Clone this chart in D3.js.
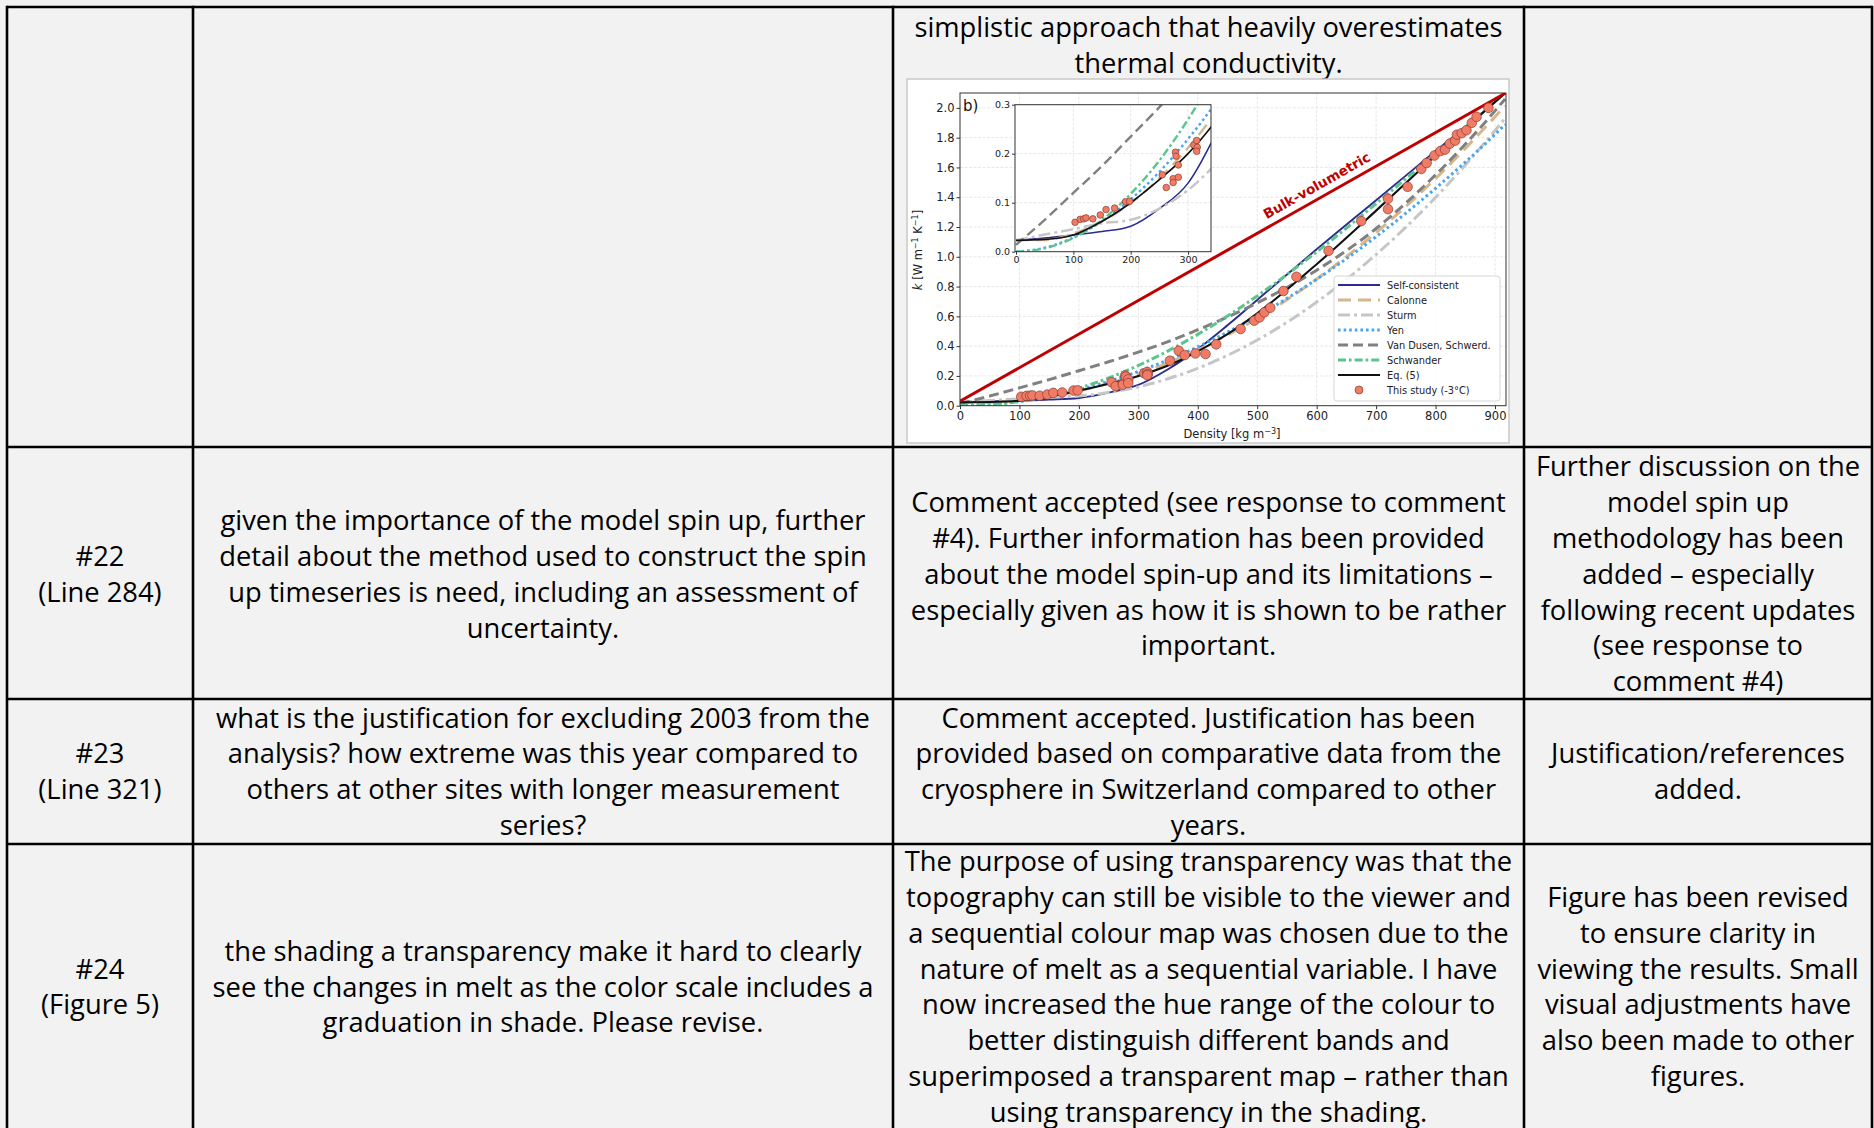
<!DOCTYPE html>
<html>
<head>
<meta charset="utf-8">
<script src="https://cdn.jsdelivr.net/npm/d3@7"></script>
<style>
html, body { margin: 0; padding: 0; background: #f2f2f2; }
svg { display: block; }
</style>
</head>
<body>
<svg id="page" width="1874" height="1128"></svg>
<script>
// ---------------- data ----------------
// density grid shared by the model curves [kg m-3]
var rhoGrid = [0, 50, 100, 150, 200, 250, 300, 350, 400, 450, 500, 600, 700, 800, 900, 917];

// thermal conductivity k [W m-1 K-1] for each model, at rhoGrid
var kSelfConsistent = [0.024, 0.028, 0.034, 0.041, 0.052, 0.088, 0.14, 0.245, 0.38, 0.54, 0.71, 1.05, 1.38, 1.71, 2.04, 2.10];
var kCalonne        = [0.024, 0.024, 0.037, 0.062, 0.099, 0.150, 0.212, 0.287, 0.375, 0.475, 0.587, 0.850, 1.163, 1.526, 1.940, 2.014];
var kSturm          = [0.023, 0.035, 0.046, 0.058, 0.065, 0.088, 0.126, 0.181, 0.251, 0.338, 0.441, 0.696, 1.015, 1.399, 1.848, 1.931];
var kYen            = [0.0, 0.008, 0.029, 0.062, 0.107, 0.163, 0.230, 0.307, 0.395, 0.494, 0.602, 0.849, 1.135, 1.460, 1.822, 1.889];
var kVanDusen       = [0.014, 0.065, 0.12, 0.175, 0.235, 0.295, 0.36, 0.43, 0.51, 0.595, 0.69, 0.91, 1.19, 1.55, 1.98, 2.06];
var kSchwander      = [0.0, 0.007, 0.028, 0.065, 0.118, 0.186, 0.270, 0.368, 0.479, 0.602, 0.737, 1.033, 1.357, 1.696, 2.042, 2.10];
var kEq5            = [0.023, 0.025, 0.034, 0.062, 0.10, 0.147, 0.20, 0.27, 0.365, 0.48, 0.62, 0.95, 1.31, 1.68, 2.04, 2.10];

// bulk-volumetric line (end points)
var rhoBulk = [0, 918];
var kBulk = [0.03, 2.1];

// measurements "This study (-3°C)"
var rhoObs = [103, 112, 118, 122, 134, 147, 157, 172, 191, 198, 255, 262, 274, 274, 278, 279, 283, 283, 310, 315, 316, 315,
              353, 368, 378, 396, 413, 431, 472, 495, 504, 512, 522, 544, 566, 620, 675, 720, 720, 753, 776, 785, 798,
              808, 816, 824, 833, 836, 844, 852, 861, 869, 889];
var kObs   = [0.060, 0.066, 0.067, 0.069, 0.067, 0.075, 0.086, 0.089, 0.102, 0.103, 0.157, 0.131, 0.149, 0.141, 0.203, 0.195, 0.177, 0.152, 0.218, 0.227, 0.213, 0.205,
              0.302, 0.369, 0.34, 0.351, 0.347, 0.412, 0.515, 0.571, 0.593, 0.627, 0.658, 0.77, 0.866, 1.04, 1.24, 1.39, 1.32, 1.47, 1.59, 1.63, 1.68,
              1.71, 1.72, 1.76, 1.78, 1.82, 1.83, 1.85, 1.90, 1.94, 2.00];

var seriesNames = ["Self-consistent", "Calonne", "Sturm", "Yen", "Van Dusen, Schwerd.", "Schwander", "Eq. (5)"];

var xTicks = [0, 100, 200, 300, 400, 500, 600, 700, 800, 900];
var yTicks = [0, 0.2, 0.4, 0.6, 0.8, 1.0, 1.2, 1.4, 1.6, 1.8, 2.0];
var insetXTicks = [0, 100, 200, 300];
var insetYTicks = [0, 0.1, 0.2, 0.3];

// ---------------- table text ----------------
var row1Comment = ["simplistic approach that heavily overestimates", "thermal conductivity."];

var row22 = [
  ["#22", "(Line 284)"],
  ["given the importance of the model spin up, further", "detail about the method used to construct the spin",
   "up timeseries is need, including an assessment of", "uncertainty."],
  ["Comment accepted (see response to comment", "#4). Further information has been provided",
   "about the model spin-up and its limitations \u2013", "especially given as how it is shown to be rather", "important."],
  ["Further discussion on the", "model spin up", "methodology has been", "added \u2013 especially",
   "following recent updates", "(see response to", "comment #4)"]
];
var row23 = [
  ["#23", "(Line 321)"],
  ["what is the justification for excluding 2003 from the", "analysis? how extreme was this year compared to",
   "others at other sites with longer measurement", "series?"],
  ["Comment accepted. Justification has been", "provided based on comparative data from the",
   "cryosphere in Switzerland compared to other", "years."],
  ["Justification/references", "added."]
];
var row24 = [
  ["#24", "(Figure 5)"],
  ["the shading a transparency make it hard to clearly", "see the changes in melt as the color scale includes a",
   "graduation in shade. Please revise."],
  ["The purpose of using transparency was that the", "topography can still be visible to the viewer and",
   "a sequential colour map was chosen due to the", "nature of melt as a sequential variable. I have",
   "now increased the hue range of the colour to", "better distinguish different bands and",
   "superimposed a transparent map \u2013 rather than", "using transparency in the shading."],
  ["Figure has been revised", "to ensure clarity in", "viewing the results. Small", "visual adjustments have",
   "also been made to other", "figures."]
];

// ---------------- layout ----------------
var svg = d3.select("#page");
var rowLines = [7, 447, 699, 844];
var colLines = [7, 193, 893, 1524, 1872];
var rowCenters = [573.3, 770.8, 986];
var linePitch = 35.8;
var tableFont = "'Open Sans', sans-serif";
var chartFont = "'DejaVu Sans', sans-serif";

svg.append("rect").attr("width", 1874).attr("height", 1128).attr("fill", "#f2f2f2");

// fit table font to the reference line width
var probe = svg.append("text").attr("font-family", tableFont).attr("font-size", 24)
    .text("see the changes in melt as the color scale includes a");
var probeW = probe.node().getComputedTextLength();
probe.remove();
var tableSize = 24 * 661 / probeW;

var textLayer = svg.append("g")
    .attr("font-family", tableFont)
    .attr("font-size", tableSize)
    .attr("fill", "#000")
    .attr("text-anchor", "middle");

function colCenter(c) { return (colLines[c] + colLines[c + 1]) / 2; }

function drawCell(lines, c, yMid) {
    var y0 = yMid - (lines.length - 1) * linePitch / 2;
    textLayer.append("g").selectAll("text")
        .data(lines)
        .join("text")
        .attr("x", colCenter(c))
        .attr("y", function(d, i) { return y0 + i * linePitch; })
        .attr("dominant-baseline", "central")
        .text(function(d) { return d; });
}

drawCell(row1Comment, 2, (26.3 + 62.1) / 2);
[row22, row23, row24].forEach(function(row, r) {
    row.forEach(function(lines, c) { drawCell(lines, c, rowCenters[r]); });
});

// borders
var borders = svg.append("g").attr("stroke", "#000").attr("stroke-width", 2.6);
borders.selectAll("line.h").data(rowLines).join("line").attr("class", "h")
    .attr("x1", colLines[0]).attr("x2", colLines[colLines.length - 1])
    .attr("y1", function(d) { return d; }).attr("y2", function(d) { return d; });
borders.selectAll("line.v").data(colLines).join("line").attr("class", "v")
    .attr("x1", function(d) { return d; }).attr("x2", function(d) { return d; })
    .attr("y1", rowLines[0] - 1.3).attr("y2", 1128);

// ---------------- chart ----------------
var chart = svg.append("g").attr("font-family", chartFont);
chart.append("rect").attr("x", 907).attr("y", 79).attr("width", 602).attr("height", 364)
    .attr("fill", "#fff").attr("stroke", "#c9c9c9").attr("stroke-width", 1.5);

var x = d3.scaleLinear().domain([0, 918.5]).range([960, 1506]);
var y = d3.scaleLinear().domain([0, 2.1]).range([405.7, 93]);

// grid
var grid = chart.append("g").attr("stroke", "#e4e4e4").attr("stroke-width", 0.9).attr("stroke-dasharray", "3,1.5");
grid.selectAll("line.gx").data(xTicks.slice(1)).join("line").attr("class", "gx")
    .attr("x1", function(d) { return x(d); }).attr("x2", function(d) { return x(d); })
    .attr("y1", y.range()[0]).attr("y2", y.range()[1]);
grid.selectAll("line.gy").data(yTicks.slice(1)).join("line").attr("class", "gy")
    .attr("y1", function(d) { return y(d); }).attr("y2", function(d) { return y(d); })
    .attr("x1", x.range()[0]).attr("x2", x.range()[1]);

var series = [
    { k: kSelfConsistent, color: "#2a2c8e", w: 1.9, dash: null },
    { k: kCalonne,        color: "#d6b68c", w: 3,   dash: "13,7" },
    { k: kSturm,          color: "#c6c6c6", w: 3,   dash: "12,4,3,4" },
    { k: kYen,            color: "#47a5f2", w: 3,   dash: "2.6,3" },
    { k: kVanDusen,       color: "#808080", w: 3,   dash: "10,5" },
    { k: kSchwander,      color: "#5cc48d", w: 3,   dash: "8,3,2.6,3" },
    { k: kEq5,            color: "#111111", w: 2.1, dash: null }
];
series.forEach(function(s, i) {
    s.name = seriesNames[i];
    s.pts = rhoGrid.map(function(r, j) { return [r, s.k[j]]; });
});
var obs = rhoObs.map(function(r, i) { return [r, kObs[i]]; });

function drawPanel(g, xs, ys, r, lw, withBulk) {
    var line = d3.line().x(function(d) { return xs(d[0]); }).y(function(d) { return ys(d[1]); })
        .curve(d3.curveMonotoneX);
    g.selectAll("path.model").data(series).join("path").attr("class", "model")
        .attr("d", function(d) { return line(d.pts); })
        .attr("fill", "none")
        .attr("stroke", function(d) { return d.color; })
        .attr("stroke-width", function(d) { return d.w * lw; })
        .attr("stroke-dasharray", function(d) { return d.dash; });
    if (withBulk) {
        g.append("path")
            .attr("d", d3.line().x(function(d) { return xs(d[0]); }).y(function(d) { return ys(d[1]); })(
                rhoBulk.map(function(v, i) { return [v, kBulk[i]]; })))
            .attr("stroke", "#bf0000").attr("stroke-width", 3 * lw).attr("fill", "none");
    }
    g.selectAll("circle").data(obs).join("circle")
        .attr("cx", function(d) { return xs(d[0]); })
        .attr("cy", function(d) { return ys(d[1]); })
        .attr("r", r)
        .attr("fill", "#f07c66").attr("stroke", "#8a3b30").attr("stroke-width", 0.7);
}

chart.append("clipPath").attr("id", "mainClip").append("rect")
    .attr("x", 960).attr("y", 93).attr("width", 546).attr("height", 312.7);
drawPanel(chart.append("g").attr("clip-path", "url(#mainClip)"), x, y, 4.8, 1, true);

// main frame and axes
chart.append("rect").attr("x", 960).attr("y", 93).attr("width", 546).attr("height", 312.7)
    .attr("fill", "none").attr("stroke", "#333").attr("stroke-width", 1);

function styleAxis(g, size) {
    g.select(".domain").remove();
    g.selectAll(".tick line").attr("stroke", "#333");
    g.selectAll(".tick text").attr("fill", "#222").attr("font-size", size).attr("font-family", chartFont);
}

chart.append("g").attr("transform", "translate(0,405.7)")
    .call(d3.axisBottom(x).tickValues(xTicks).tickSize(3.5).tickPadding(2.5))
    .call(styleAxis, 11.5);
chart.append("g").attr("transform", "translate(960,0)")
    .call(d3.axisLeft(y).tickValues(yTicks).tickFormat(d3.format(".1f")).tickSize(3.5).tickPadding(2))
    .call(styleAxis, 11.5);

var xl = chart.append("text").attr("x", 1232).attr("y", 438).attr("text-anchor", "middle")
    .attr("font-size", 11.5).attr("fill", "#222");
xl.append("tspan").text("Density [kg m");
xl.append("tspan").attr("dy", -4).attr("font-size", 8).text("\u22123");
xl.append("tspan").attr("dy", 4).text("]");

var yl = chart.append("text").attr("transform", "translate(922,250) rotate(-90)").attr("text-anchor", "middle")
    .attr("font-size", 11.5).attr("fill", "#222");
yl.append("tspan").attr("font-style", "italic").text("k");
yl.append("tspan").text(" [W m");
yl.append("tspan").attr("dy", -4).attr("font-size", 8).text("\u22121");
yl.append("tspan").attr("dy", 4).text(" K");
yl.append("tspan").attr("dy", -4).attr("font-size", 8).text("\u22121");
yl.append("tspan").attr("dy", 4).text("]");

chart.append("text").attr("x", 963).attr("y", 111).attr("font-size", 15).attr("fill", "#111").text("b)");

// bulk-volumetric label along the line
var ang = Math.atan2(y(kBulk[1]) - y(kBulk[0]), x(rhoBulk[1]) - x(rhoBulk[0])) * 180 / Math.PI;
chart.append("text")
    .attr("transform", "translate(" + x(600) + "," + y(1.48) + ") rotate(" + ang + ")")
    .attr("text-anchor", "middle").attr("dominant-baseline", "central")
    .attr("font-size", 13.5).attr("font-weight", "bold").attr("fill", "#bf0000")
    .text("Bulk-volumetric");

// inset
var xi = d3.scaleLinear().domain([0, 340]).range([1016, 1211]);
var yi = d3.scaleLinear().domain([0, 0.3]).range([251.7, 104.7]);
var inset = chart.append("g");
inset.append("rect").attr("x", 1015).attr("y", 104.7).attr("width", 196).attr("height", 147)
    .attr("fill", "#fff");
var igrid = inset.append("g").attr("stroke", "#e4e4e4").attr("stroke-width", 0.9).attr("stroke-dasharray", "3,1.5");
igrid.selectAll("line.gx").data(insetXTicks.slice(1)).join("line").attr("class", "gx")
    .attr("x1", function(d) { return xi(d); }).attr("x2", function(d) { return xi(d); })
    .attr("y1", yi.range()[0]).attr("y2", yi.range()[1]);
igrid.selectAll("line.gy").data(insetYTicks.slice(1)).join("line").attr("class", "gy")
    .attr("y1", function(d) { return yi(d); }).attr("y2", function(d) { return yi(d); })
    .attr("x1", 1015).attr("x2", 1211);
inset.append("clipPath").attr("id", "insetClip").append("rect")
    .attr("x", 1015).attr("y", 104.7).attr("width", 196).attr("height", 147);
drawPanel(inset.append("g").attr("clip-path", "url(#insetClip)"), xi, yi, 3.3, 0.8, false);
inset.append("rect").attr("x", 1015).attr("y", 104.7).attr("width", 196).attr("height", 147)
    .attr("fill", "none").attr("stroke", "#333").attr("stroke-width", 1);
inset.append("g").attr("transform", "translate(0,251.7)")
    .call(d3.axisBottom(xi).tickValues(insetXTicks).tickSize(3).tickPadding(2))
    .call(styleAxis, 9.5);
inset.append("g").attr("transform", "translate(1015,0)")
    .call(d3.axisLeft(yi).tickValues(insetYTicks).tickFormat(d3.format(".1f")).tickSize(3).tickPadding(2))
    .call(styleAxis, 9.5);

// legend
var legend = chart.append("g");
legend.append("rect").attr("x", 1334).attr("y", 276).attr("width", 166).attr("height", 125).attr("rx", 3)
    .attr("fill", "#fff").attr("fill-opacity", 0.85).attr("stroke", "#d6d6d6").attr("stroke-width", 1);
var items = legend.selectAll("g.item").data(series.concat([{ name: "This study (-3\u00b0C)", point: true }]))
    .join("g").attr("class", "item")
    .attr("transform", function(d, i) { return "translate(0," + (285 + i * 15) + ")"; });
items.filter(function(d) { return !d.point; }).append("line")
    .attr("x1", 1338).attr("x2", 1380)
    .attr("stroke", function(d) { return d.color; })
    .attr("stroke-width", function(d) { return d.w; })
    .attr("stroke-dasharray", function(d) { return d.dash; });
items.filter(function(d) { return d.point; }).append("circle")
    .attr("cx", 1359).attr("r", 4).attr("fill", "#f07c66").attr("stroke", "#8a3b30").attr("stroke-width", 0.7);
items.append("text").attr("x", 1387).attr("dominant-baseline", "central")
    .attr("font-size", 9.8).attr("fill", "#222")
    .text(function(d) { return d.name; });
</script>
</body>
</html>
